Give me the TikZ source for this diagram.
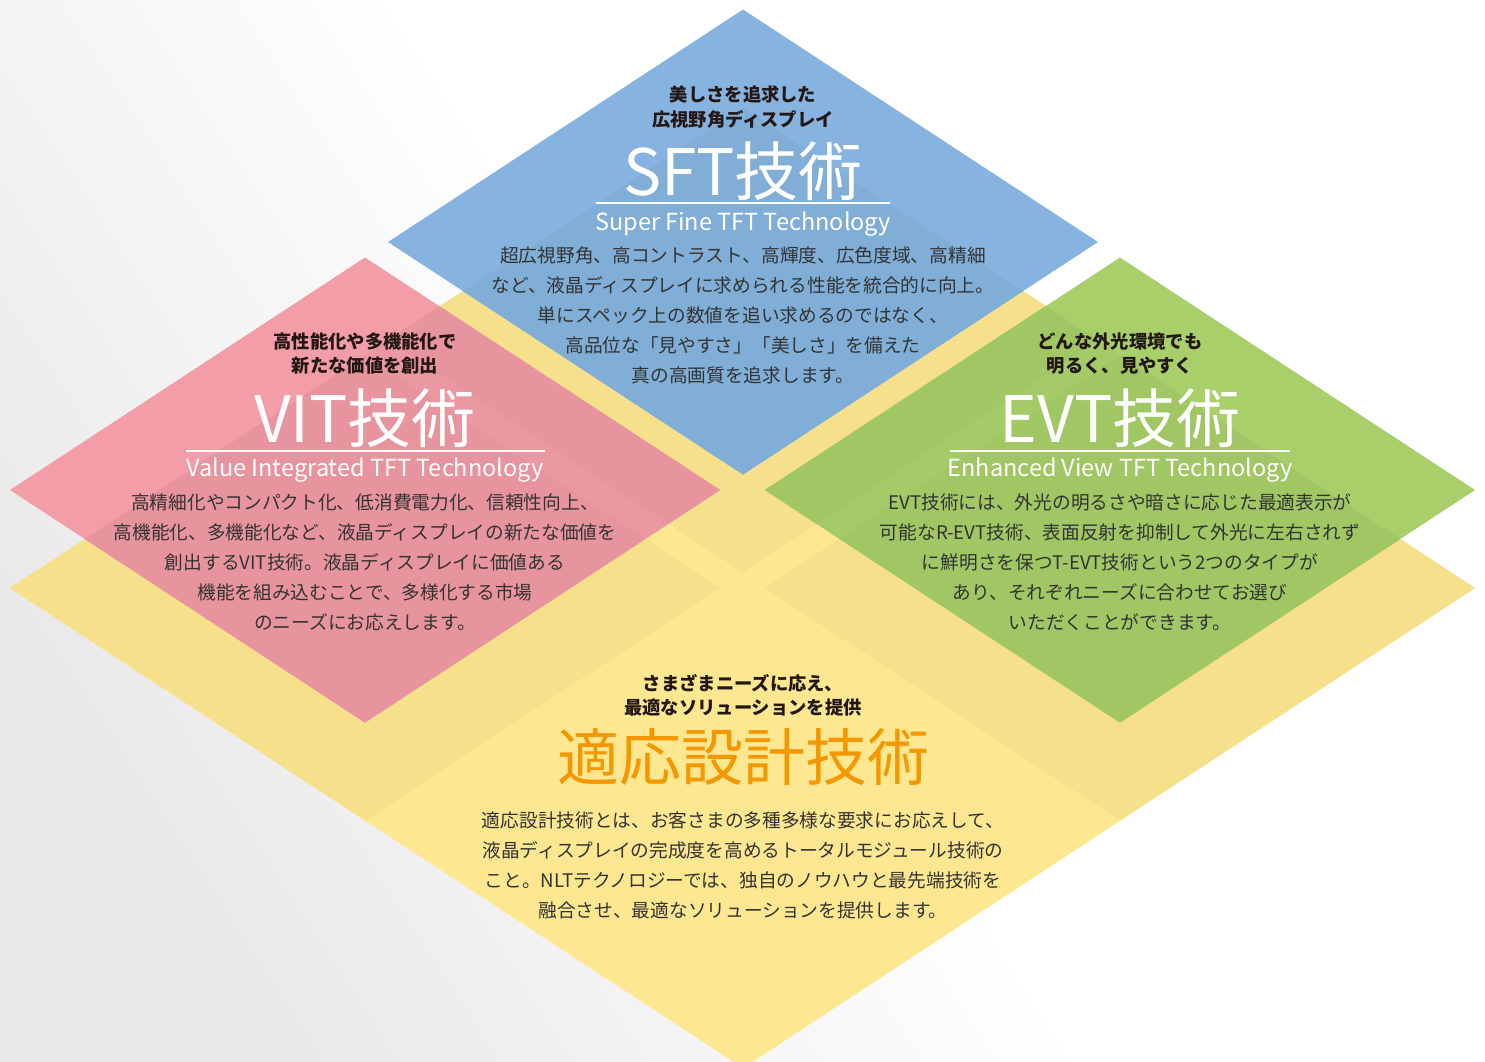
\documentclass[tikz,border=0pt]{standalone}
\usepackage{fontspec}
\setmainfont{Noto Sans CJK JP}

\definecolor{bgGray}{HTML}{E9E9EA}
\definecolor{baseYel}{HTML}{FEE791}
\definecolor{deepYel}{HTML}{F6E08C}
\definecolor{sftBlue}{HTML}{86B3E0}
\definecolor{sftBlueY}{HTML}{80AED7}
\definecolor{vitPink}{HTML}{F29DA7}
\definecolor{vitPinkB}{HTML}{EC98A3}
\definecolor{vitPinkY}{HTML}{E8949F}
\definecolor{evtGreen}{HTML}{A9CF6B}
\definecolor{evtGreenB}{HTML}{A4CB67}
\definecolor{evtGreenY}{HTML}{A0C764}
\definecolor{adaptOrange}{HTML}{F39800}
\definecolor{headInk}{HTML}{231815}
\definecolor{bodyInk}{HTML}{333333}

% one tile of the lattice, centred at (#1,#2)
\newcommand\tile[2]{({#1-355},{#2}) -- ({#1},{#2-232.5}) -- ({#1+355},{#2}) -- ({#1},{#2+232.5}) -- cycle}
\newcommand\bigtile{(10,588) -- (743,108) -- (1475,588) -- (743,1068) -- cycle}

\tikzset{
  headtxt/.style={font=\fontsize{18.3}{24.5}\selectfont\bfseries, text=headInk, align=center, inner sep=0pt},
  bodytxt/.style={font=\fontsize{18.7}{30}\selectfont, text=bodyInk, align=center, inner sep=0pt},
  titletxt/.style={font=\fontsize{64}{64}\selectfont, text=white, inner sep=0pt},
  subtxt/.style={font=\fontsize{23.5}{23.5}\selectfont, text=white, inner sep=0pt},
  rule/.style={draw=white, line width=1.2pt},
}

\begin{document}
\begin{tikzpicture}[x=1pt, y=-1pt]
\useasboundingbox (0,0) rectangle (1485,1061);
\shade[top color=bgGray, bottom color=white, middle color=white, shading angle=123] (0,0) rectangle (1485,1061);

% yellow ground
\fill[baseYel] \bigtile;
\foreach \cx/\cy in {743/340, 365/588, 1120/588}
  \fill[deepYel] \tile{\cx}{\cy};

% SFT tile
\fill[sftBlue] \tile{743}{242};
\begin{scope}
\clip \tile{743}{242};
\fill[sftBlueY] \bigtile;
\end{scope}

% VIT tile
\fill[vitPink] \tile{365}{490};
\begin{scope}
\clip \tile{365}{490};
\fill[vitPinkB] \bigtile;
\foreach \cx/\cy in {743/340, 365/588}
  \fill[vitPinkY] \tile{\cx}{\cy};
\end{scope}

% EVT tile
\fill[evtGreen] \tile{1120}{490};
\begin{scope}
\clip \tile{1120}{490};
\fill[evtGreenB] \bigtile;
\foreach \cx/\cy in {743/340, 1120/588}
  \fill[evtGreenY] \tile{\cx}{\cy};
\end{scope}

% SFT
\node[headtxt] (sft_head) at (743,107) {美しさを追求した\\広視野角ディスプレイ};
\node[titletxt] (sft_title) at (743,171) {SFT技術};
\draw[rule] (596,203) -- (890,203);
\node[subtxt] (sft_sub) at (743,224) {Super Fine TFT Technology};
\node[bodytxt] (sft_body) at (743,315.5) {超広視野角、高コントラスト、高輝度、広色度域、高精細\\など、液晶ディスプレイに求められる性能を統合的に向上。\\単にスペック上の数値を追い求めるのではなく、\\高品位な「見やすさ」「美しさ」を備えた\\真の高画質を追求します。};

% VIT
\node[headtxt] (vit_head) at (365,353.5) {高性能化や多機能化で\\新たな価値を創出};
\node[titletxt] (vit_title) at (365,418) {VIT技術};
\draw[rule] (186,451) -- (545,451);
\node[subtxt] (vit_sub) at (365,470) {Value Integrated TFT Technology};
\node[bodytxt] (vit_body) at (365,562.5) {高精細化やコンパクト化、低消費電力化、信頼性向上、\\高機能化、多機能化など、液晶ディスプレイの新たな価値を\\創出するVIT技術。液晶ディスプレイに価値ある\\機能を組み込むことで、多様化する市場\\のニーズにお応えします。};

% EVT
\node[headtxt] (evt_head) at (1120,353.5) {どんな外光環境でも\\明るく、見やすく};
\node[titletxt] (evt_title) at (1120,418) {EVT技術};
\draw[rule] (950,451) -- (1290,451);
\node[subtxt] (evt_sub) at (1120,470) {Enhanced View TFT Technology};
\node[bodytxt] (evt_body) at (1120,562.5) {EVT技術には、外光の明るさや暗さに応じた最適表示が\\可能なR-EVT技術、表面反射を抑制して外光に左右されず\\に鮮明さを保つT-EVT技術という2つのタイプが\\あり、それぞれニーズに合わせてお選び\\いただくことができます。};

% adaptive design
\node[headtxt] (ada_head) at (743,695.5) {さまざまニーズに応え、\\最適なソリューションを提供};
\node[titletxt, font=\fontsize{62}{62}\selectfont, text=adaptOrange] (ada_title) at (743,757) {適応設計技術};
\node[bodytxt] (ada_body) at (743,865) {適応設計技術とは、お客さまの多種多様な要求にお応えして、\\液晶ディスプレイの完成度を高めるトータルモジュール技術の\\こと。NLTテクノロジーでは、独自のノウハウと最先端技術を\\融合させ、最適なソリューションを提供します。};
\end{tikzpicture}
\end{document}
